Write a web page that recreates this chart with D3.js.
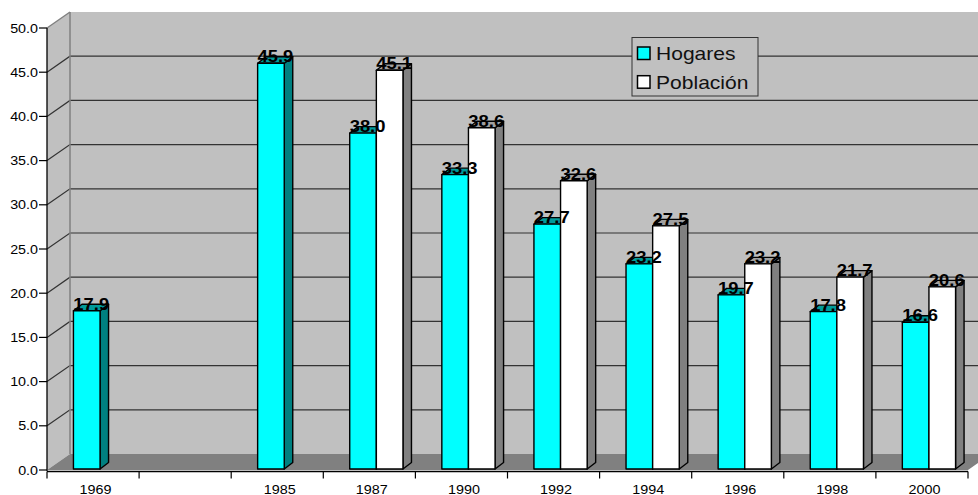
<!DOCTYPE html>
<html>
<head>
<meta charset="utf-8">
<script src="https://cdn.jsdelivr.net/npm/d3@7/dist/d3.min.js"></script>
<style>
  html, body { margin: 0; padding: 0; background: #fff; }
  svg { display: block; }
  text { font-family: "Liberation Sans", Arial, sans-serif; }
</style>
</head>
<body>
<svg id="chart" width="978" height="495"></svg>
<script>
// Survey years (the second slot is an empty gap on the axis)
const categories = ["1969", "", "1985", "1987", "1990", "1992", "1994", "1996", "1998", "2000"];
// Percentages per year; null where the series has no value
const hogares   = [17.9, null, 45.9, 38.0, 33.3, 27.7, 23.2, 19.7, 17.8, 16.6];
const poblacion = [null, null, null, 45.1, 38.6, 32.6, 27.5, 23.2, 21.7, 20.6];
const seriesNames = ["Hogares", "Población"];
const yTicks = [0, 5, 10, 15, 20, 25, 30, 35, 40, 45, 50];

const svg = d3.select("#chart");

// 3D box geometry (oblique projection)
const left = 47, right = 968;
const depth = { dx: 23, dy: -16 };
const bar3d = { dx: 8.5, dy: -6.5 };

const x = d3.scaleBand().domain(d3.range(categories.length)).range([left, right]).paddingInner(0).paddingOuter(0);
const y = d3.scaleLinear().domain([0, 50]).range([470, 28]);

const wallFill = "#c0c0c0";
const edgeGray = "#808080";
const gridColor = "#333";

// Side wall
svg.append("polygon")
  .attr("points", [[left, y(50)], [left + depth.dx, y(50) + depth.dy], [left + depth.dx, y(0) + depth.dy], [left, y(0)]].join(" "))
  .attr("fill", wallFill);
// Back wall
svg.append("polygon")
  .attr("points", [[left + depth.dx, y(50) + depth.dy], [right + depth.dx, y(50) + depth.dy], [right + depth.dx, y(0) + depth.dy], [left + depth.dx, y(0) + depth.dy]].join(" "))
  .attr("fill", wallFill);

// Gridlines on side and back walls
const grid = svg.append("g");
yTicks.filter(v => v > 0 && v < 50).forEach(v => {
  grid.append("polyline")
    .attr("points", [[left, y(v)], [left + depth.dx, y(v) + depth.dy], [right + depth.dx, y(v) + depth.dy]].join(" "))
    .attr("fill", "none").attr("stroke", gridColor).attr("stroke-width", 1.2);
});
// Top edge of the side wall and back-wall corner
svg.append("line")
  .attr("x1", left).attr("y1", y(50)).attr("x2", left + depth.dx).attr("y2", y(50) + depth.dy)
  .attr("stroke", edgeGray).attr("stroke-width", 1.5);
svg.append("line")
  .attr("x1", left + depth.dx).attr("y1", y(50) + depth.dy).attr("x2", left + depth.dx).attr("y2", y(0) + depth.dy)
  .attr("stroke", edgeGray).attr("stroke-width", 1.5);

// Floor
svg.append("polygon")
  .attr("points", [[left, y(0)], [right, y(0)], [right + depth.dx, y(0) + depth.dy], [left + depth.dx, y(0) + depth.dy]].join(" "))
  .attr("fill", "#808080");

// Value axis
svg.append("line")
  .attr("x1", left).attr("y1", y(50)).attr("x2", left).attr("y2", y(0) + 1)
  .attr("stroke", "#000").attr("stroke-width", 1.3);
const yAxis = svg.append("g");
yTicks.forEach(v => {
  yAxis.append("line")
    .attr("x1", left - 8).attr("x2", left).attr("y1", y(v)).attr("y2", y(v))
    .attr("stroke", "#000").attr("stroke-width", 1.2);
  yAxis.append("text")
    .attr("transform", `translate(${left - 9},${y(v) + 4.5}) scale(1.1,1)`)
    .attr("text-anchor", "end")
    .attr("font-size", 13)
    .attr("fill", "#000")
    .text(d3.format(".1f")(v));
});

// Category axis
const axisY = y(0) + 1.5;
svg.append("line")
  .attr("x1", left).attr("x2", right).attr("y1", axisY).attr("y2", axisY)
  .attr("stroke", "#000").attr("stroke-width", 1.3);
const xAxis = svg.append("g");
d3.range(categories.length + 1).forEach(i => {
  const xi = i < categories.length ? x(i) : right;
  xAxis.append("line")
    .attr("x1", xi).attr("x2", xi).attr("y1", axisY).attr("y2", axisY + 7)
    .attr("stroke", "#000").attr("stroke-width", 1.2);
});
categories.forEach((c, i) => {
  xAxis.append("text")
    .attr("transform", `translate(${x(i) + x.bandwidth() / 2 + 2.5},${y(0) + 23.5}) scale(1.15,1)`)
    .attr("text-anchor", "middle")
    .attr("font-size", 12.5)
    .attr("fill", "#000")
    .text(c);
});

// Bars
const bw = x.bandwidth() * 0.289;
const barBase = y(0) - 1;
const styles = [
  { front: "#00ffff", side: "#008080", top: "#009a9a" },
  { front: "#ffffff", side: "#808080", top: "#a0a0a0" }
];
const barsG = svg.append("g");
const labels = [];

function drawBar(i, s, v) {
  const cx = x(i) + x.bandwidth() / 2 + 7;
  const x0 = s === 0 ? cx - bw : cx;
  const x1 = x0 + bw;
  const yt = y(v) - 1;
  const st = styles[s];
  const g = barsG.append("g").attr("stroke", "#000").attr("stroke-width", 1.4).attr("stroke-linejoin", "round");
  // side face
  g.append("polygon")
    .attr("points", [[x1, yt], [x1 + bar3d.dx, yt + bar3d.dy], [x1 + bar3d.dx, barBase + bar3d.dy], [x1, barBase]].join(" "))
    .attr("fill", st.side);
  // top face
  g.append("polygon")
    .attr("points", [[x0, yt], [x1, yt], [x1 + bar3d.dx, yt + bar3d.dy], [x0 + bar3d.dx, yt + bar3d.dy]].join(" "))
    .attr("fill", st.top);
  // front face
  g.append("rect")
    .attr("x", x0).attr("y", yt).attr("width", bw).attr("height", barBase - yt)
    .attr("fill", st.front);
  labels.push({ x: (x0 + x1) / 2 + 4.5, y: yt - 1, v });
}

categories.forEach((c, i) => {
  if (hogares[i] != null) drawBar(i, 0, hogares[i]);
  if (poblacion[i] != null) drawBar(i, 1, poblacion[i]);
});

// Data labels
const labG = svg.append("g");
labels.forEach(d => {
  labG.append("text")
    .attr("transform", `translate(${d.x},${d.y}) scale(1.15,1)`)
    .attr("text-anchor", "middle")
    .attr("font-size", 16)
    .attr("font-weight", "bold")
    .attr("fill", "#000")
    .text(d3.format(".1f")(d.v));
});

// Legend
const legend = svg.append("g");
legend.append("rect")
  .attr("x", 632).attr("y", 37.5).attr("width", 126).attr("height", 58.5)
  .attr("fill", wallFill).attr("stroke", "#333").attr("stroke-width", 1);
seriesNames.forEach((name, k) => {
  const ly = 47 + k * 28.7;
  legend.append("rect")
    .attr("x", 637.5).attr("y", ly).attr("width", 12.5).attr("height", 12.5)
    .attr("fill", styles[k].front).attr("stroke", "#000").attr("stroke-width", 1.5);
  legend.append("text")
    .attr("transform", `translate(656,${ly + 13}) scale(1.17,1)`)
    .attr("font-size", 18)
    .attr("fill", "#111")
    .text(name);
});
</script>
</body>
</html>
